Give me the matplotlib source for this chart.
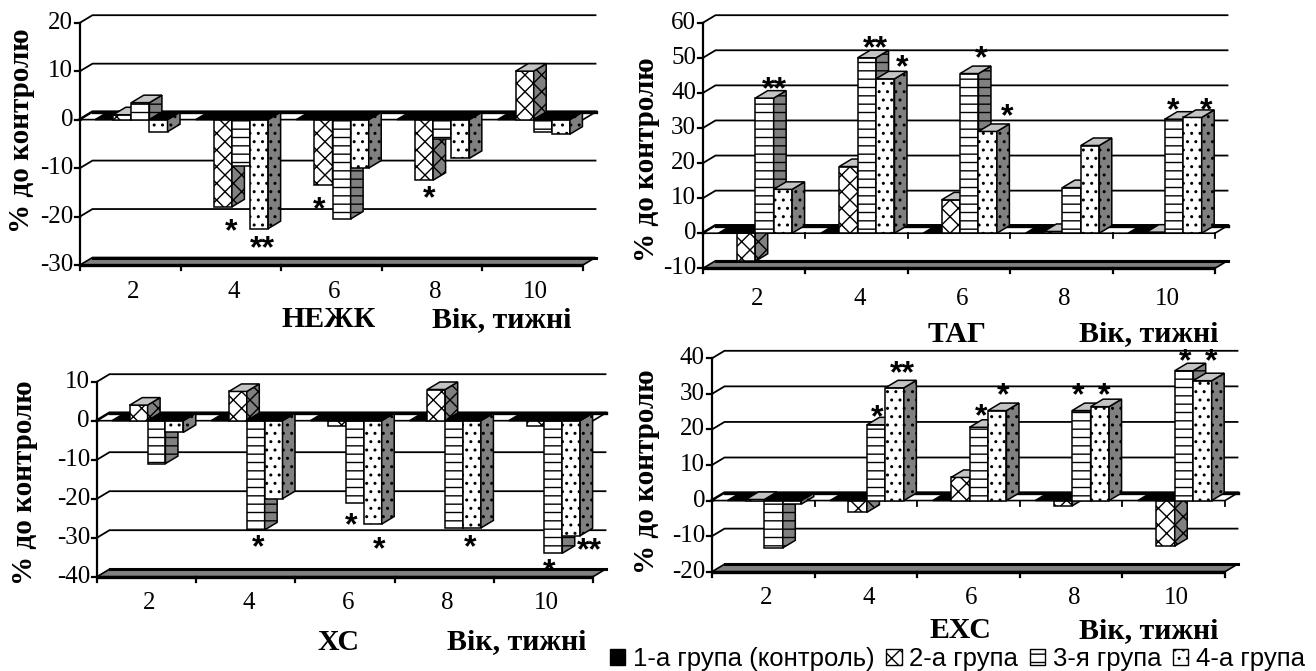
import matplotlib
matplotlib.use('Agg')
import matplotlib.pyplot as plt
from matplotlib.patches import Polygon, Patch

plt.rcParams['hatch.linewidth'] = 1.0

W, H, DPI = 1316, 671, 100
SERIF = 'Liberation Serif'
SANS = 'Liberation Sans'

# ---------------- data ----------------
weeks = ['2', '4', '6', '8', '10']
group_names = ['1-а група (контроль)', '2-а група', '3-я група', '4-а група']

nezhk_g1 = [0, 0, 0, 0, 0]
nezhk_g2 = [1, -18, -13.5, -12.5, 10]
nezhk_g3 = [3.5, -9.5, -20.5, -4, -2.5]
nezhk_g4 = [-2.5, -22.5, -10, -8, -3]
nezhk_ticks = [-30, -20, -10, 0, 10, 20]
nezhk_stars = [(1, 1, '*'), (1, 3, '**'), (2, 1, '*'), (3, 1, '*')]

tag_g1 = [0, 0, 0, 0, 0]
tag_g2 = [-8, 19, 9.5, 0.5, 0.3]
tag_g3 = [38.5, 50, 45.5, 13, 32.5]
tag_g4 = [12.5, 44, 29, 25, 33]
tag_ticks = [-10, 0, 10, 20, 30, 40, 50, 60]
tag_stars = [(0, 2, '**'), (1, 2, '**'), (1, 3, '*'), (2, 2, '*'), (2, 3, '*'),
             (4, 2, '*'), (4, 3, '*')]

xs_g1 = [0, 0, 0, 0, 0]
xs_g2 = [4, 7.5, -1.3, 8, -1.3]
xs_g3 = [-11, -28, -21, -27.5, -34]
xs_g4 = [-3, -20, -26.5, -27.5, -29.5]
xs_ticks = [-40, -30, -20, -10, 0, 10]
xs_stars = [(1, 2, '*'), (2, 2, '*'), (2, 3, '*'), (3, 3, '*'), (4, 2, '*'), (4, 3, '**')]

ehs_g1 = [0, 0, 0, 0, 0]
ehs_g2 = [0.3, -3.3, 6.5, -1.5, -12.8]
ehs_g3 = [-13.3, 21.3, 20.6, 25.3, 36.5]
ehs_g4 = [-1, 31.7, 25.3, 26.4, 33.7]
ehs_ticks = [-20, -10, 0, 10, 20, 30, 40]
ehs_stars = [(1, 2, '*'), (1, 3, '**'), (2, 2, '*'), (2, 3, '*'), (3, 2, '*'),
             (3, 3, '*'), (4, 2, '*'), (4, 3, '*')]

# ---------------- layout / style ----------------
DEPTH_X, DEPTH_Y = 12.5, 7.5          # pixel depth of the pseudo-3D box
BAR_START, BAR_W = 0.15, 0.18         # within a category (category width = 1)
front_styles = [dict(fc='black', hatch=None),
                dict(fc='white', hatch='xx'),
                dict(fc='white', hatch='--'),
                dict(fc='white', hatch='..')]
SIDE_FC = '#808080'
TOP_FC = '#c4c4c4'
TICK_FS = 18
CAP_FS = 21.5
STAR_FS = 23

layouts = [
    dict(box=(80, 583, 22.7, 265), lab_off=27, zero_ticks=False,
         ylab=(22, 131), title=('НЕЖК', 329, 320), age=(502, 320),
         nudges=[(2, -19), (-3, -14), (-11, -19), (-1, -13)]),
    dict(box=(703, 1215, 22.7, 268.3), lab_off=31, zero_ticks=True,
         ylab=(646, 160), title=('ТАГ', 957, 334), age=(1149, 334),
         nudges=[(4, 14), (2, 15), (11, 17), (6, 21), (13, 21), (-7, 14), (7, 13)]),
    dict(box=(97, 593, 381.7, 576.7), lab_off=26, zero_ticks=False,
         ylab=(25, 483), title=('ХС', 339, 642), age=(517, 642),
         nudges=[(-4, -12), (-10, -17), (0, -20), (-8, -14), (-10, -13), (12, -9)]),
    dict(box=(712, 1225, 358.3, 571.7), lab_off=26, zero_ticks=True,
         ylab=(646, 472), title=('ЕХС', 960, 631), age=(1149, 631),
         nudges=[(-5, 13), (2, 20), (-4, 16), (0, 21), (-9, 21), (-2, 17), (-5, 15), (2, 25)]),
]

panels = [
    ([nezhk_g1, nezhk_g2, nezhk_g3, nezhk_g4], nezhk_ticks, nezhk_stars),
    ([tag_g1, tag_g2, tag_g3, tag_g4], tag_ticks, tag_stars),
    ([xs_g1, xs_g2, xs_g3, xs_g4], xs_ticks, xs_stars),
    ([ehs_g1, ehs_g2, ehs_g3, ehs_g4], ehs_ticks, ehs_stars),
]

fig = plt.figure(figsize=(W / DPI, H / DPI), dpi=DPI)


def poly(ax, pts, fc, hatch=None, lw=1.1, z=2):
    p = Polygon(pts, closed=True, facecolor=fc, edgecolor='black', lw=lw,
                hatch=hatch, clip_on=False, zorder=z, joinstyle='miter')
    ax.add_patch(p)
    return p


def draw_panel(series, yticks, stars, lay):
    x0, x1, ytop, ybot = lay['box']
    ymin, ymax = yticks[0], yticks[-1]
    n = len(weeks)
    catw = (x1 - x0) / n
    ppu = (ybot - ytop) / (ymax - ymin)
    DX = DEPTH_X / catw
    DY = DEPTH_Y / ppu
    ax = fig.add_axes([x0 / W, 1 - ybot / H, (x1 - x0 + DEPTH_X) / W,
                       (ybot - ytop + DEPTH_Y) / H])
    ax.set_xlim(0, n + DX)
    ax.set_ylim(ymin, ymax + DY)
    ax.axis('off')

    # floor
    poly(ax, [(0, ymin), (n, ymin), (n + DX, ymin + DY), (DX, ymin + DY)],
         SIDE_FC, lw=1.2, z=0.5)
    ax.plot([0, n], [ymin, ymin], color='black', lw=2.4, zorder=0.6,
            solid_capstyle='butt', clip_on=False)
    ax.plot([DX, n + DX], [ymin + DY, ymin + DY], color='black', lw=2.2,
            zorder=0.6, clip_on=False)

    # grid lines on left & back walls
    for t in yticks[1:]:
        ax.plot([0, DX, n + DX], [t, t + DY, t + DY], color='black',
                lw=2.4 if t == 0 else 1.3, zorder=1, clip_on=False)

    # value axis
    ax.plot([0, 0], [ymin, ymax], color='black', lw=1.6, zorder=1.5, clip_on=False)
    for t in yticks:
        ax.plot([-5 / catw, 0], [t, t], color='black', lw=1.6, zorder=1.5, clip_on=False)
        ax.text(-7 / catw, t, str(t), ha='right', va='center', fontsize=TICK_FS,
                family=SERIF, clip_on=False)
    # category axis ticks and labels
    for i in range(n + 1):
        ax.plot([i, i], [ymin, ymin - 5 / ppu], color='black', lw=1.6,
                zorder=1.5, clip_on=False)
    for i, w in enumerate(weeks):
        ax.text(i + 0.53, ymin - lay['lab_off'] / ppu, w, ha='center', va='center',
                fontsize=TICK_FS, family=SERIF, clip_on=False)

    # zero plane band
    poly(ax, [(0, 0), (n, 0), (n + DX, DY), (DX, DY)], 'white', lw=1.2, z=1.6)
    ax.plot([DX, n + DX], [DY, DY], color='black', lw=2.4, zorder=1.7, clip_on=False)
    if lay['zero_ticks']:
        for i in range(n + 1):
            ax.plot([i, i], [0, -5 / ppu], color='black', lw=1.3, zorder=1.7,
                    clip_on=False)

    # bars
    for i in range(n):
        for g in range(4):
            v = series[g][i]
            xl = i + BAR_START + BAR_W * g
            xr = xl + BAR_W
            st = front_styles[g]
            if v == 0:
                poly(ax, [(xl, 0), (xr, 0), (xr + DX, DY), (xl + DX, DY)], 'black')
                continue
            poly(ax, [(xl, 0), (xr, 0), (xr, v), (xl, v)], st['fc'], st['hatch'])
            poly(ax, [(xr, 0), (xr + DX, DY), (xr + DX, v + DY), (xr, v)],
                 SIDE_FC, st['hatch'])
            if v > 0:
                poly(ax, [(xl, v), (xr, v), (xr + DX, v + DY), (xl + DX, v + DY)], TOP_FC)
            else:
                poly(ax, [(xl, 0), (xr, 0), (xr + DX, DY), (xl + DX, DY)], 'black')

    # significance marks
    fs_px = STAR_FS * DPI / 72
    for (i, g, txt), (ndx, ndy) in zip(stars, lay['nudges']):
        v = series[g][i]
        xc = i + BAR_START + BAR_W * g + BAR_W / 2 + DX / 2
        ax.annotate(txt, xy=(xc, v), xytext=(ndx, ndy - 0.45 * fs_px),
                    textcoords='offset pixels', ha='center', va='baseline',
                    fontsize=STAR_FS, fontweight='bold', family=SANS,
                    annotation_clip=False, zorder=3)

    # axis captions
    fig.text(lay['ylab'][0] / W, 1 - lay['ylab'][1] / H, '% до контролю',
             rotation=90, ha='center', va='center', fontsize=CAP_FS - 0.5,
             fontweight='bold', family=SERIF)
    name, tx, ty = lay['title']
    fig.text(tx / W, 1 - ty / H, name, ha='center', va='center', fontsize=CAP_FS,
             fontweight='bold', family=SERIF)
    fig.text(lay['age'][0] / W, 1 - lay['age'][1] / H, 'Вік, тижні', ha='center',
             va='center', fontsize=CAP_FS, fontweight='bold', family=SERIF)


for (series, yticks, stars), lay in zip(panels, layouts):
    draw_panel(series, yticks, stars, lay)

handles = [Patch(facecolor=s['fc'], edgecolor='black', hatch=s['hatch'], lw=1.0)
           for s in front_styles]
fig.legend(handles, group_names, loc='center left',
           bbox_to_anchor=(610 / W, 1 - 659 / H), ncol=4, frameon=False,
           prop={'family': SANS, 'size': 18.5}, handlelength=0.6, handleheight=0.6,
           handletextpad=0.3, columnspacing=0.45, borderaxespad=0, borderpad=0)

fig.savefig('out.png', dpi=DPI)
